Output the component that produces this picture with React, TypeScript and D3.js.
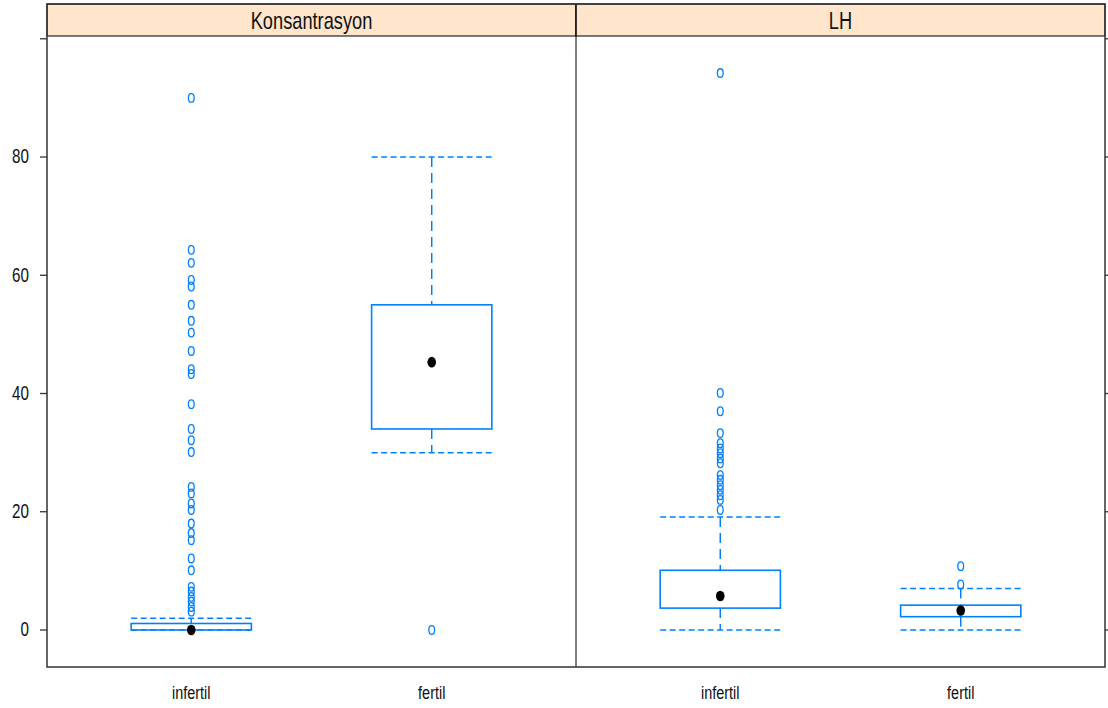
import React from "react";
import * as d3 from "d3";

const panels = ["Konsantrasyon", "LH"];
const groups = ["infertil", "fertil"];
const yTicks = [0, 20, 40, 60, 80, 100];
const yTickLabels = ["0", "20", "40", "60", "80", ""];

// Konsantrasyon box stats (per group: infertil, fertil)
const konsLower = [0, 30];
const konsQ1 = [0, 34];
const konsMedian = [0, 45.3];
const konsQ3 = [1.1, 55];
const konsUpper = [2, 80];
const konsOutInfertil = [90, 64.3, 62.1, 59.2, 58.1, 55, 52.3, 50.3, 47.2, 44.1, 43.3, 38.2, 34, 32.1, 30.1, 24.2, 23.1, 21.4, 20.3, 18, 16.4, 15.2, 12.1, 10.1, 7.3, 6.5, 5.6, 4.8, 3.9, 3.1];
const konsOutFertil = [0];

// LH box stats
const lhLower = [0, 0];
const lhQ1 = [3.7, 2.25];
const lhMedian = [5.75, 3.3];
const lhQ3 = [10.1, 4.2];
const lhUpper = [19.1, 7.0];
const lhOutInfertil = [94.2, 40.1, 37.0, 33.3, 31.6, 30.7, 29.9, 29.0, 28.2, 26.2, 25.4, 24.5, 23.7, 22.8, 22.0, 20.3];
const lhOutFertil = [10.8, 7.7];

const panelData = [
  { lower: konsLower, q1: konsQ1, med: konsMedian, q3: konsQ3, upper: konsUpper, out: [konsOutInfertil, konsOutFertil] },
  { lower: lhLower, q1: lhQ1, med: lhMedian, q3: lhQ3, upper: lhUpper, out: [lhOutInfertil, lhOutFertil] },
];

const W = 1108, H = 708;
const left = 47, right = 1105, stripTop = 4, stripBot = 36, bottom = 667;
const panelW = (right - left) / 2;
const BLUE = "#0080ff";
const FONT = "'Liberation Sans', Arial, sans-serif";
const SX = 0.76;

export default function App() {
  const y = d3.scaleLinear().domain([-6.26, 100.3]).range([bottom, 37]);
  return (
    <svg width={W} height={H} style={{ position: "fixed", left: 0, top: 0, background: "#fff" }}>
      {panels.map((p, pi) => {
        const x0 = left + pi * panelW;
        const x = d3.scaleLinear().domain([0.4, 2.6]).range([x0, x0 + panelW]);
        const bw = x(1.25) - x(1);
        const d = panelData[pi];
        return (
          <g key={p}>
            <rect x={x0} y={stripTop} width={panelW} height={stripBot - stripTop} fill="#ffe5cc" stroke="#222" strokeWidth={1.2} />
            <text transform={`translate(${x0 + panelW / 2},${29}) scale(${SX},1)`} textAnchor="middle" fontFamily={FONT} fontSize={24} fill="#111">{p}</text>
            {groups.map((g, gi) => {
              const cx = x(gi + 1);
              return (
                <g key={g}>
                  <line x1={cx - bw} x2={cx + bw} y1={y(d.upper[gi])} y2={y(d.upper[gi])} stroke={BLUE} strokeWidth={1.5} strokeDasharray="6,3.5" />
                  <line x1={cx - bw} x2={cx + bw} y1={y(d.lower[gi])} y2={y(d.lower[gi])} stroke={BLUE} strokeWidth={1.5} strokeDasharray="6,3.5" />
                  <line x1={cx} x2={cx} y1={y(d.upper[gi])} y2={y(d.q3[gi])} stroke={BLUE} strokeWidth={1.5} strokeDasharray="10,6" />
                  <line x1={cx} x2={cx} y1={y(d.q1[gi])} y2={y(d.lower[gi])} stroke={BLUE} strokeWidth={1.5} strokeDasharray="10,6" />
                  <rect x={cx - bw} y={y(d.q3[gi])} width={2 * bw} height={Math.max(0, y(d.q1[gi]) - y(d.q3[gi]))} fill="none" stroke={BLUE} strokeWidth={1.6} />
                  {d.out[gi].map((v, k) => (
                    <ellipse key={k} cx={cx} cy={y(v)} rx={2.9} ry={4.3} fill="none" stroke={BLUE} strokeWidth={1.3} />
                  ))}
                  <ellipse cx={cx} cy={y(d.med[gi])} rx={4.3} ry={5.3} fill="#000" />
                  <text transform={`translate(${cx},${699}) scale(${SX},1)`} textAnchor="middle" fontFamily={FONT} fontSize={19} fill="#111">{g}</text>
                </g>
              );
            })}
          </g>
        );
      })}
      <line x1={left + panelW} x2={left + panelW} y1={stripTop} y2={bottom} stroke="#000" strokeWidth={1} />
      <rect x={left} y={stripTop} width={right - left} height={bottom - stripTop} fill="none" stroke="#333" strokeWidth={1.5} />
      {yTicks.map((t, i) => (
        <g key={t}>
          <line x1={40} x2={left} y1={y(t)} y2={y(t)} stroke="#333" strokeWidth={1.3} />
          <line x1={right} x2={1111} y1={y(t)} y2={y(t)} stroke="#333" strokeWidth={1.3} />
          <text transform={`translate(${29},${y(t) + 1}) scale(${SX},1)`} textAnchor="end" dominantBaseline="middle" fontFamily={FONT} fontSize={20} fill="#111">{yTickLabels[i]}</text>
        </g>
      ))}
    </svg>
  );
}
